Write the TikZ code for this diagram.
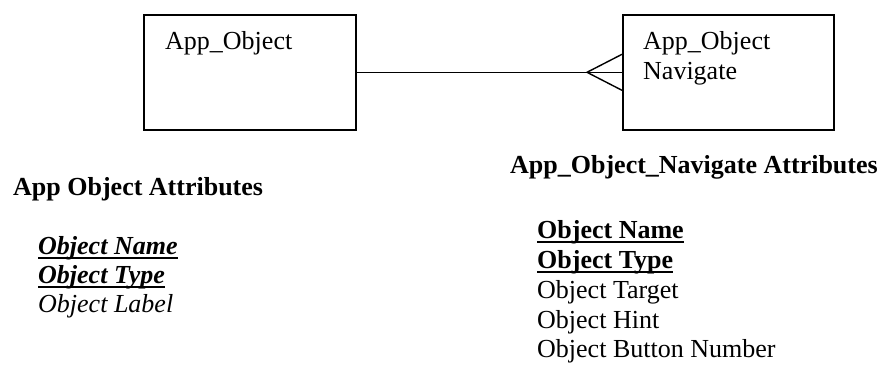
\documentclass[tikz,border=0pt]{standalone}
\usepackage{fontspec}
\setmainfont{Liberation Serif}
\usetikzlibrary{calc}
\newcommand\ulx[1]{\setbox0\hbox{#1}\rlap{\rule[-5pt]{\wd0}{1.8pt}}\box0}
\tikzset{
  entity/.style={draw, line width=1.6pt, minimum width=212pt, minimum height=115pt, anchor=north west, inner sep=0pt},
  txt/.style={anchor=base west, inner sep=0pt, font=\fontsize{26}{30}\selectfont},
  conn/.style={line width=1.4pt}
}
\begin{document}
\begin{tikzpicture}[x=1pt,y=-1pt]
\fill[white] (0,0) rectangle (887,365);
\useasboundingbox (0,0) rectangle (887,365);
\node[entity] (A) at (143,14) {};
\node[entity, minimum width=211pt] (B) at (622,14) {};
\node[txt] (At) at (165,49) {App\_Object};
\node[txt, align=left, font=\fontsize{26}{30}\selectfont] (Bt) at (643,49) {App\_Object};
\node[txt] (Bt2) at (643,79) {Navigate};
\draw[conn] (A.east) -- (B.west);
\coordinate (apex) at ($(B.west)+(-35,0)$);
\draw[conn] ([yshift=18pt]B.west) -- (apex) -- ([yshift=-18pt]B.west);
% left attributes
\node[txt] (LH) at (13,195) {\bfseries App Object Attributes};
\node[txt] (L1) at (38,254) {\bfseries\itshape \ulx{Object Name}};
\node[txt] (L2) at (38,283) {\bfseries\itshape \ulx{Object Type}};
\node[txt] (L3) at (38,312) {\itshape Object Label};
% right attributes
\node[txt] (RH) at (510,173) {\bfseries App\_Object\_Navigate Attributes};
\node[txt] (R1) at (537,238) {\bfseries \ulx{Object Name}};
\node[txt] (R2) at (537,268) {\bfseries \ulx{Object Type}};
\node[txt] (R3) at (537,298) {Object Target};
\node[txt] (R4) at (537,328) {Object Hint};
\node[txt] (R5) at (537,357) {Object Button Number};
\end{tikzpicture}
\end{document}
